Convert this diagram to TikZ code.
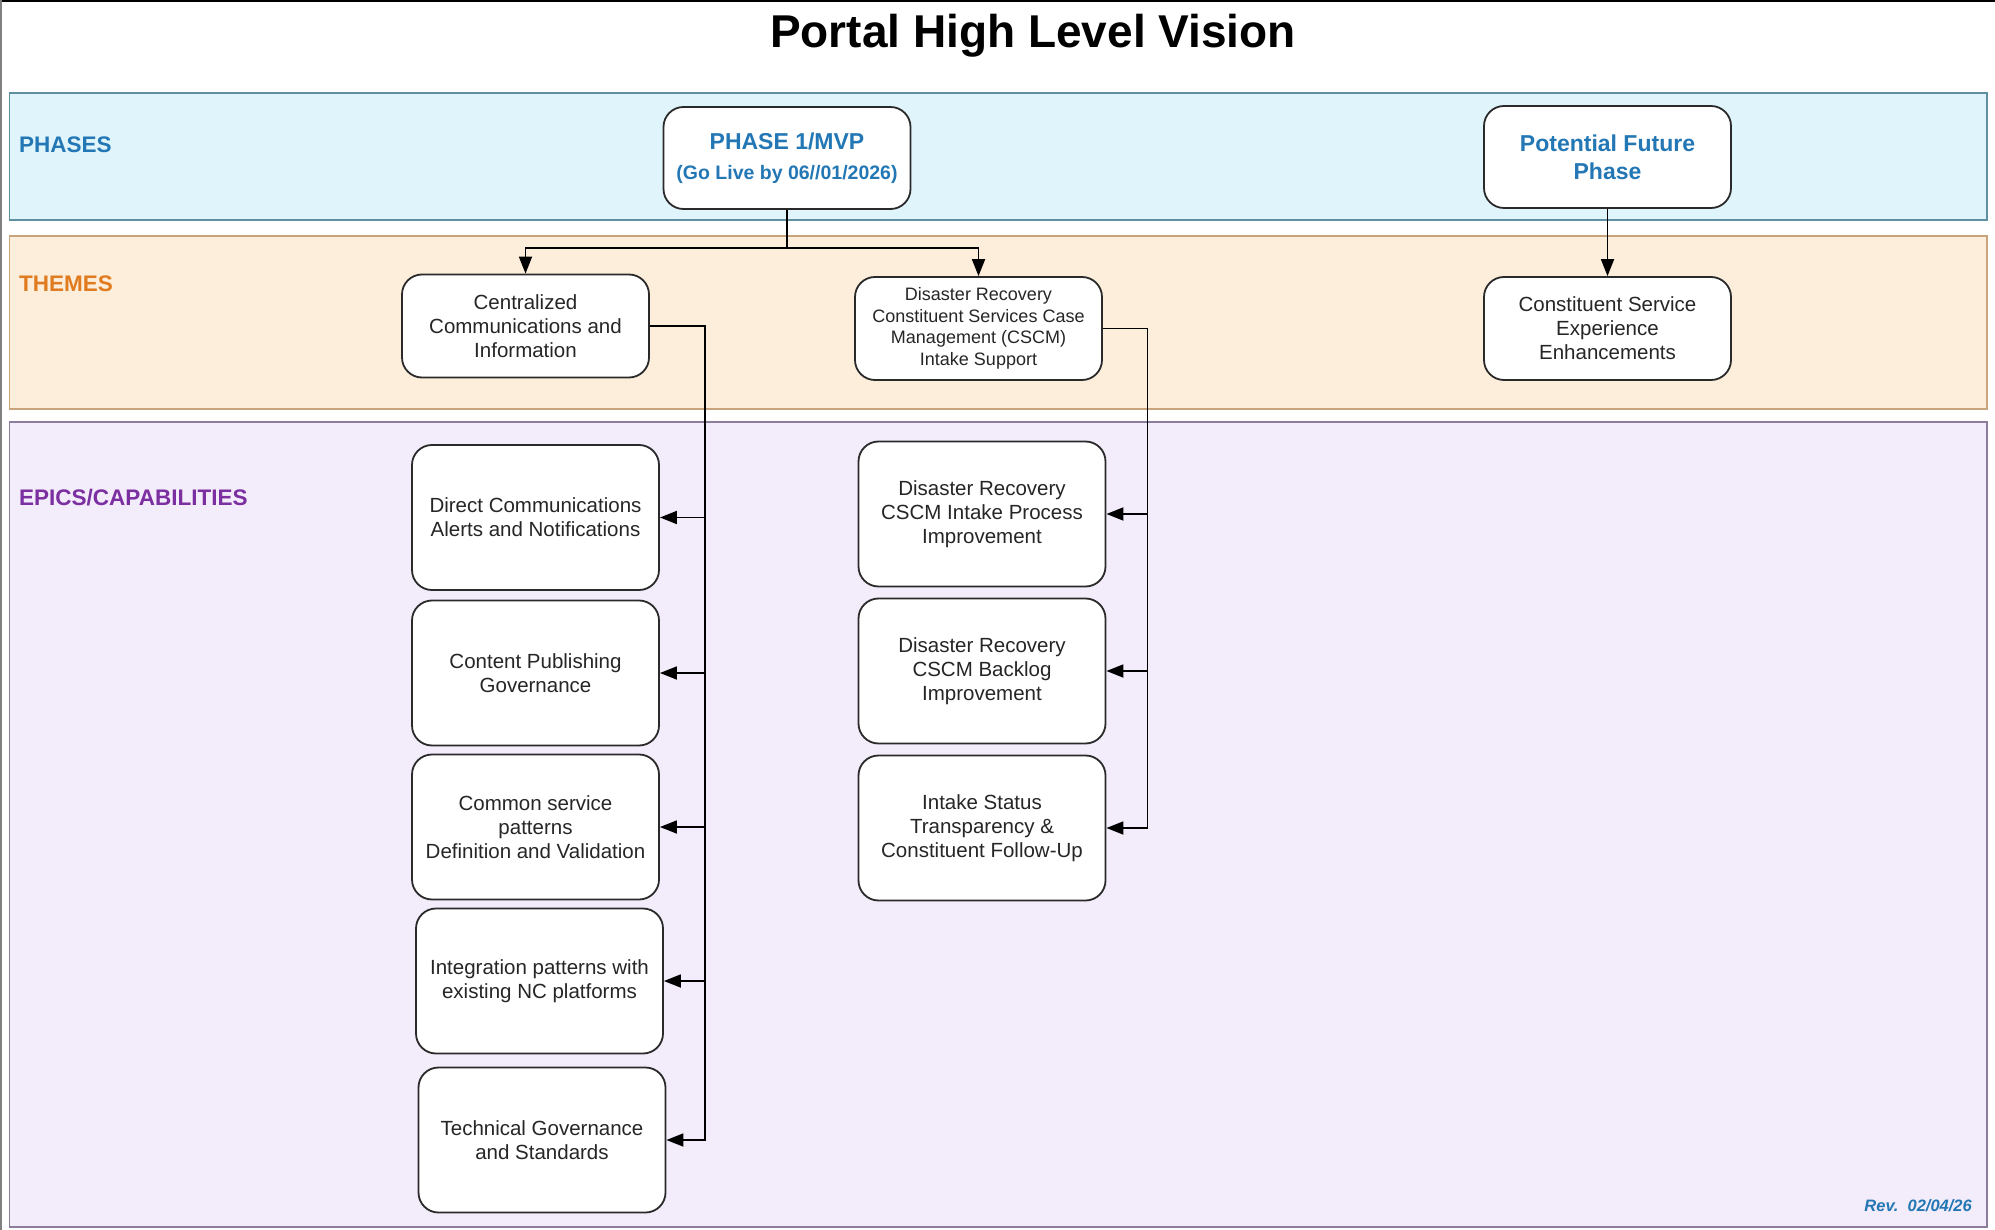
\documentclass[tikz,border=0pt]{standalone}
\usepackage{fontspec}
\setmainfont{Liberation Sans}
\usetikzlibrary{arrows.meta}
\definecolor{phfill}{HTML}{E0F4FC}
\definecolor{phline}{HTML}{5F8FA0}
\definecolor{thfill}{HTML}{FDEEDB}
\definecolor{thline}{HTML}{C8A47C}
\definecolor{epfill}{HTML}{F3ECFA}
\definecolor{epline}{HTML}{8C7D9C}
\definecolor{phtext}{HTML}{2277B4}
\definecolor{thtext}{HTML}{E07B1F}
\definecolor{eptext}{HTML}{7B2FA0}
\definecolor{boxline}{HTML}{2A2A2A}
\begin{document}
\begin{tikzpicture}[x=1pt,y=-1pt,
  band/.style={line width=1.4pt},
  bandlabel/.style={anchor=base west,inner sep=0pt,font=\fontsize{22.5}{26}\selectfont\bfseries},
  rbox/.style={draw=boxline,fill=white,line width=1.8pt,rounded corners=20pt,
    minimum width=247pt,inner sep=0pt,align=center,text=black!85},
  phasebox/.style={rbox,minimum height=102pt,text=phtext,font=\fontsize{23}{28}\selectfont\bfseries},
  themebox/.style={rbox,minimum height=103pt,font=\fontsize{20.5}{24}\selectfont},
  epicbox/.style={rbox,minimum height=145pt,font=\fontsize{20.5}{24}\selectfont},
  conn/.style={draw=black,line width=1.8pt},
  arr/.style={conn,-{Triangle[length=17pt,width=13pt]}}]
\useasboundingbox (0,0) rectangle (1995,1230);
\fill[white] (0,0) rectangle (1995,1230);
% frame
\draw[black,line width=2.5pt] (0,1.2) -- (1995,1.2);
\draw[gray,line width=1.5pt] (1,0) -- (1,1230);
% title
\node[anchor=base,inner sep=0pt,font=\fontsize{46}{50}\selectfont\bfseries] (title) at (1033,48) {Portal High Level Vision};
% bands
\draw[band,draw=phline,fill=phfill] (9.5,93) rectangle (1987,220);
\draw[band,draw=thline,fill=thfill] (9.5,236) rectangle (1987,409);
\draw[band,draw=epline,fill=epfill] (9.5,422) rectangle (1987,1227);
\node[bandlabel,text=phtext] (lph) at (19,153) {PHASES};
\node[bandlabel,text=thtext] (lth) at (19,292) {THEMES};
\node[bandlabel,text=eptext] (lep) at (19,505) {EPICS/CAPABILITIES};
\node[anchor=base east,inner sep=0pt,text=phtext,font=\fontsize{16.5}{19}\selectfont\bfseries\itshape] (rev) at (1972,1211) {Rev.\ \ 02/04/26};
% phases
\node[phasebox,font=\fontsize{23}{30}\selectfont\bfseries] (p1) at (787,158) {PHASE 1/MVP\\{\fontsize{19.5}{23}\selectfont (Go Live by 06//01/2026)}};
\node[phasebox] (pf) at (1607.5,157) {Potential Future\\Phase};
% themes
\node[themebox] (tc) at (525.5,326) {Centralized\\Communications and\\Information};
\node[themebox,font=\fontsize{18}{21.6}\selectfont] (td) at (978.5,328.5) {Disaster Recovery\\Constituent Services Case\\Management (CSCM)\\Intake Support};
\node[themebox] (ts) at (1607.5,328.5) {Constituent Service\\Experience\\Enhancements};
% epics left
\node[epicbox] (e1) at (535.5,517.5) {Direct Communications\\Alerts and Notifications};
\node[epicbox] (e2) at (535.5,673) {Content Publishing\\Governance};
\node[epicbox] (e3) at (535.5,827) {Common service\\patterns\\Definition and Validation};
\node[epicbox] (e4) at (539.5,981) {Integration patterns with\\existing NC platforms};
\node[epicbox] (e5) at (542,1140) {Technical Governance\\and Standards};
% epics right
\node[epicbox] (f1) at (982,514) {Disaster Recovery\\CSCM Intake Process\\Improvement};
\node[epicbox] (f2) at (982,671) {Disaster Recovery\\CSCM Backlog\\Improvement};
\node[epicbox] (f3) at (982,828) {Intake Status\\Transparency \&\\Constituent Follow-Up};
% connectors phases -> themes
\coordinate (j1) at (787,248);
\draw[arr] (p1.south) -- (p1.south |- j1) -| (tc.north);
\draw[arr] (p1.south) -- (p1.south |- j1) -| (td.north);
\draw[arr] (pf.south) -- (ts.north);
% centralized trunk
\coordinate (ta) at (705,0);
\foreach \e in {e1,e2,e3,e4,e5}{
  \draw[arr] (tc.east) -| (ta |- \e.east) -- (\e.east);
}
% DR trunk
\coordinate (tb) at (1147.5,0);
\foreach \e in {f1,f2,f3}{
  \draw[arr] (td.east) -| (tb |- \e.east) -- (\e.east);
}
\end{tikzpicture}
\end{document}
